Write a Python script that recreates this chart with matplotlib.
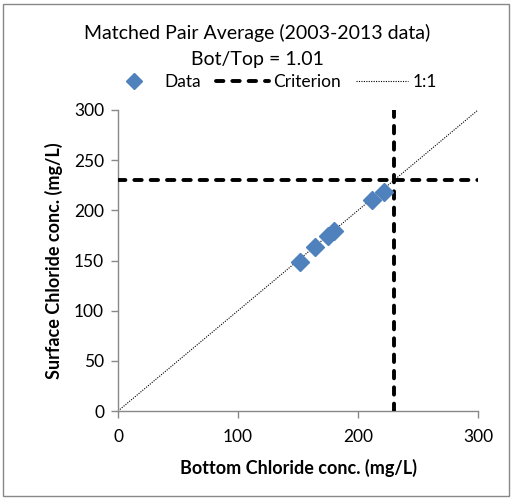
import matplotlib
matplotlib.use("Agg")
import matplotlib.pyplot as plt
from matplotlib.lines import Line2D
from matplotlib.patches import Rectangle

bottom_cl = [151.7, 164.2, 175.3, 180.3, 211.9, 221.9]
surface_cl = [148.9, 163.2, 174.5, 179.8, 210.1, 218.6]
criterion = 230
one_to_one = [0, 300]
xticks = [0, 100, 200, 300]
yticks = [0, 50, 100, 150, 200, 250, 300]

plt.rcParams['font.family'] = ['Lato', 'DejaVu Sans']

DASH = (0, (1.9, 2.3))

fig = plt.figure(figsize=(5.14, 5.0), dpi=100)
W, H = 514, 500
ax = fig.add_axes([118 / W, 1 - 411 / H, 360 / W, 301 / H])

ax.plot(one_to_one, one_to_one, color='black', lw=0.8, linestyle=(0, (1, 1.2)), zorder=2)
ax.plot([0, 300], [criterion, criterion], color='black', lw=2.8,
        linestyle=DASH, dash_capstyle='round', zorder=3)
ax.plot([criterion, criterion], [0, 300], color='black', lw=2.8,
        linestyle=DASH, dash_capstyle='round', zorder=3)
ax.plot(bottom_cl, surface_cl, linestyle='none', marker='D', ms=9,
        color='#4F81BD', markeredgecolor='#4F81BD', zorder=4)

ax.set_xlim(0, 300)
ax.set_ylim(0, 300)
ax.set_xticks(xticks)
ax.set_yticks(yticks)
ax.tick_params(axis='both', labelsize=12.5, length=5, color='#888888', width=1)
ax.tick_params(axis='x', pad=8)
ax.tick_params(axis='y', pad=5)
for s in ['top', 'right']:
    ax.spines[s].set_visible(False)
for s in ['left', 'bottom']:
    ax.spines[s].set_color('#888888')
    ax.spines[s].set_linewidth(1)

ax.set_xlabel('Bottom Chloride conc. (mg/L)', fontsize=13, fontweight='bold', labelpad=10)
ax.set_ylabel('Surface Chloride conc. (mg/L)', fontsize=13, fontweight='bold', labelpad=8)

fig.text(0.5, 1 - 33 / H, 'Matched Pair Average (2003-2013 data)', ha='center', va='center', fontsize=14)
fig.text(0.5, 1 - 59 / H, 'Bot/Top = 1.01', ha='center', va='center', fontsize=14)

handles = [
    Line2D([], [], linestyle='none', marker='D', ms=8, color='#4F81BD'),
    Line2D([], [], color='black', lw=2.8, linestyle=DASH, dash_capstyle='round'),
    Line2D([], [], color='black', lw=0.8, linestyle=(0, (1, 1.2))),
]
fig.legend(handles, ['Data', 'Criterion', '1:1'], loc='center', bbox_to_anchor=(0.53, 1 - 82 / H),
           ncol=3, frameon=False, fontsize=12.5, handlelength=3.0, handletextpad=0.25,
           columnspacing=0.9)

fig.patches.append(Rectangle((3 / W, 4 / H), 506 / W, 492 / H, transform=fig.transFigure,
                             fill=False, edgecolor='#888888', lw=1))

fig.savefig('out.png', dpi=100)
